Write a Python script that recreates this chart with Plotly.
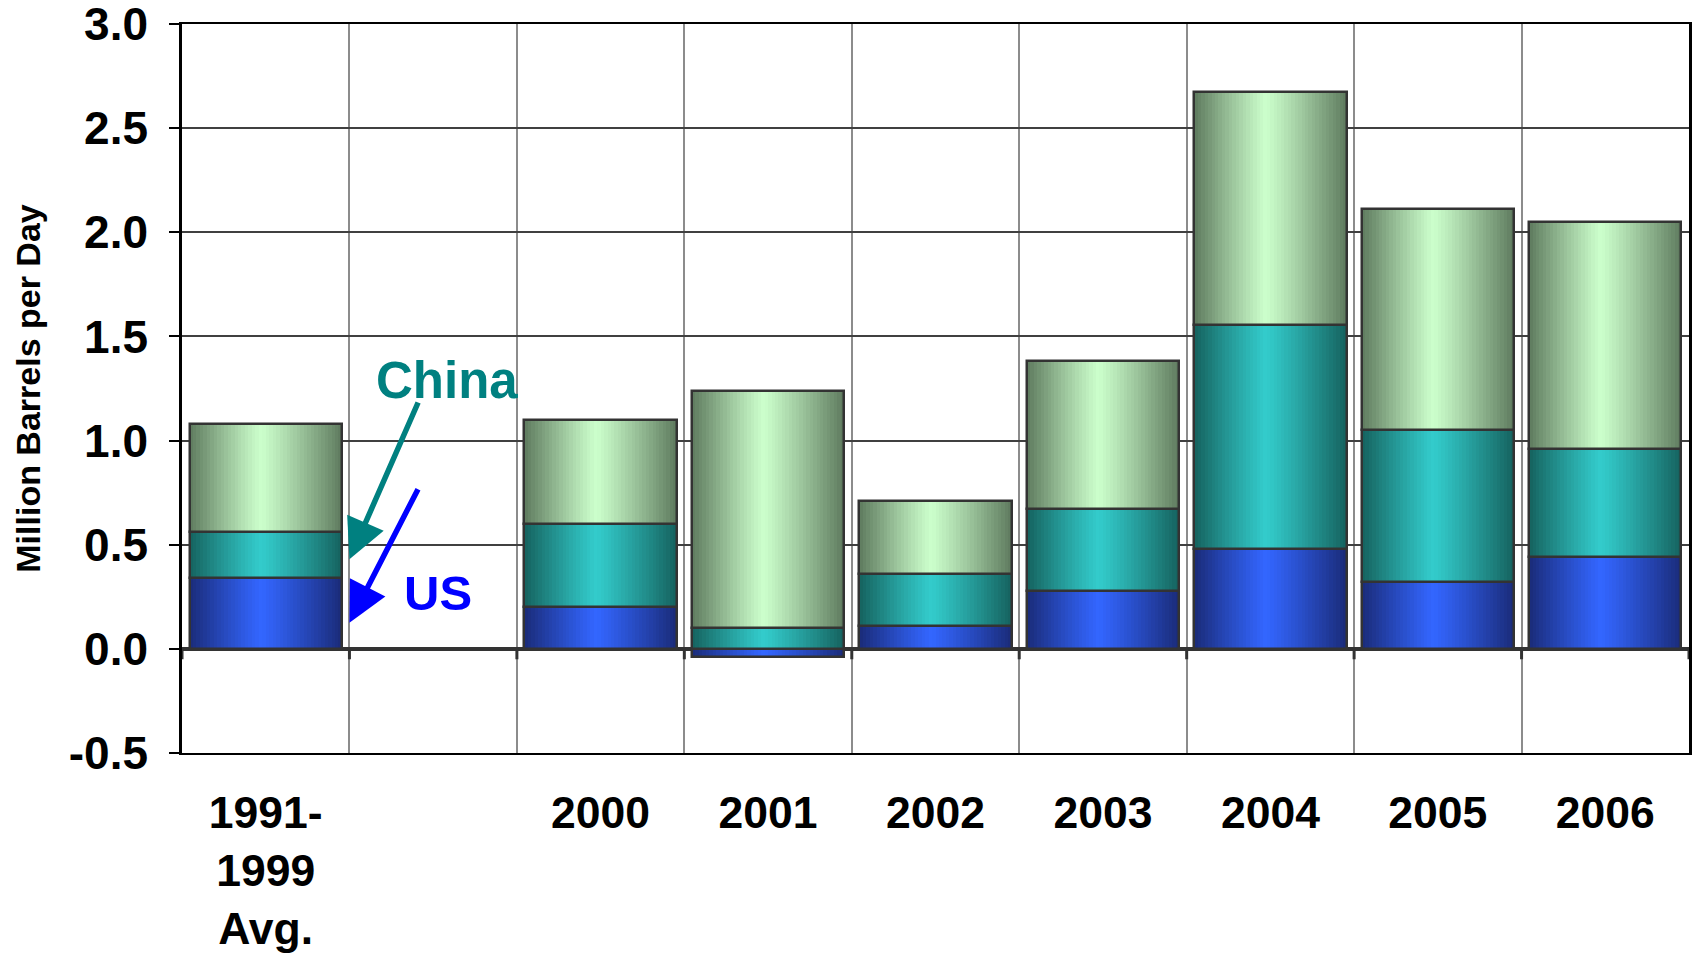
import numpy as np
import plotly.graph_objects as go

# Net change in oil demand, million barrels per day
categories = ["1991-<br>1999<br>Avg.", " ", "2000", "2001", "2002", "2003", "2004", "2005", "2006"]
us = [0.34, None, 0.20, -0.04, 0.11, 0.28, 0.48, 0.32, 0.44]
china = [0.22, None, 0.40, 0.10, 0.25, 0.39, 1.075, 0.73, 0.52]
other = [0.52, None, 0.50, 1.14, 0.35, 0.71, 1.12, 1.06, 1.09]

y_ticks = [-0.5, 0.0, 0.5, 1.0, 1.5, 2.0, 2.5, 3.0]
y_tick_text = ["-0.5", "0.0", "0.5", "1.0", "1.5", "2.0", "2.5", "3.0"]

series = [
    ("US", us, (0x33, 0x66, 0xFF), (0x1A, 0x2B, 0x78)),
    ("China", china, (0x33, 0xCC, 0xCC), (0x15, 0x62, 0x5E)),
    ("Rest of World", other, (0xCC, 0xFF, 0xCC), (0x5E, 0x7A, 0x5E)),
]

BAR_W = 0.91
N_SLICES = 44
PEAK = 0.47


def shade(center, edge, t):
    if t <= PEAK:
        d = (PEAK - t) / PEAK
    else:
        d = (t - PEAK) / (1 - PEAK)
    d = min(max(d, 0.0), 1.0) ** 1.1
    c = [round(a * (1 - d) + b * d) for a, b in zip(center, edge)]
    return "rgb(%d,%d,%d)" % tuple(c)


# relative stacking: positives build upward, negatives downward
n = len(categories)
pos_top = np.zeros(n)
neg_top = np.zeros(n)
bases = []
for _, vals, _, _ in series:
    b = []
    for i, v in enumerate(vals):
        if v is None:
            b.append(None)
        elif v >= 0:
            b.append(pos_top[i])
            pos_top[i] += v
        else:
            b.append(neg_top[i])
            neg_top[i] += v
    bases.append(b)

fig = go.Figure()

step = BAR_W / N_SLICES
for (name, vals, c_center, c_edge), base in zip(series, bases):
    for k in range(N_SLICES):
        off = -BAR_W / 2 + k * step
        w = min(step * 1.6, BAR_W / 2 - off)
        fig.add_trace(go.Bar(
            x=categories, y=vals, base=base,
            width=w, offset=off,
            marker=dict(color=shade(c_center, c_edge, (k + 0.5) / N_SLICES), line=dict(width=0)),
            showlegend=False, hoverinfo="skip", name=name,
        ))
    fig.add_trace(go.Bar(
        x=categories, y=vals, base=base,
        width=BAR_W, offset=-BAR_W / 2,
        marker=dict(color="rgba(0,0,0,0)", line=dict(color="#333333", width=2.5)),
        showlegend=False, name=name,
        hovertemplate="%{x}: %{y:.2f}<extra>" + name + "</extra>",
    ))

# short ticks hanging from the zero line at each category boundary
shapes = []
for i in range(n + 1):
    shapes.append(dict(type="line", xref="x", yref="y", x0=i - 0.5, x1=i - 0.5,
                       y0=0, y1=-0.05, line=dict(color="#333333", width=3), layer="above"))

bold = "Liberation Sans"

annotations = [
    dict(x=1.082, y=1.29, xref="x", yref="y", text="China", showarrow=False,
         font=dict(family=bold, size=51, color="#008080", weight="bold")),
    dict(x=1.03, y=0.27, xref="x", yref="y", text="US", showarrow=False,
         font=dict(family=bold, size=49, color="#0000FF", weight="bold")),
    dict(x=0.5, y=0.43, ax=0.914, ay=1.19, xref="x", yref="y", axref="x", ayref="y",
         text="", showarrow=True, arrowhead=2, arrowsize=1.45, arrowwidth=5.5,
         arrowcolor="#008080", standoff=0),
    dict(x=0.5, y=0.125, ax=0.914, ay=0.774, xref="x", yref="y", axref="x", ayref="y",
         text="", showarrow=True, arrowhead=2, arrowsize=1.45, arrowwidth=5.5,
         arrowcolor="#0000FF", standoff=0),
]

fig.update_layout(
    width=1696, height=954,
    margin=dict(l=182, r=7, t=24, b=201),
    paper_bgcolor="white", plot_bgcolor="white",
    barmode="overlay", bargap=0,
    font=dict(family=bold, color="black"),
    shapes=shapes, annotations=annotations,
    xaxis=dict(
        type="category", categoryorder="array", categoryarray=categories,
        range=[-0.5, n - 0.5], automargin=False,
        tickson="boundaries", ticks="", showgrid=True, gridcolor="#8C8C8C", gridwidth=1.5,
        showline=True, linecolor="black", linewidth=2, mirror=True,
        tickfont=dict(family=bold, size=44.5, color="black", weight="bold"),
        ticklabelstandoff=20, ticklabeloverflow="allow",
    ),
    yaxis=dict(
        range=[-0.5, 3.0], tickvals=y_ticks, ticktext=y_tick_text, automargin=False,
        showgrid=True, gridcolor="#404040", gridwidth=2,
        zeroline=True, zerolinecolor="#333333", zerolinewidth=3.5,
        showline=True, linecolor="black", linewidth=2.5, mirror=True,
        ticks="outside", ticklen=10, tickwidth=2, tickcolor="black",
        tickfont=dict(family=bold, size=46, color="black", weight="bold"),
        ticklabelstandoff=12, ticklabeloverflow="allow",
        title=dict(text="Million Barrels per Day", standoff=18,
                   font=dict(family=bold, size=34, color="black", weight="bold")),
    ),
)

fig.write_html("out.html")
